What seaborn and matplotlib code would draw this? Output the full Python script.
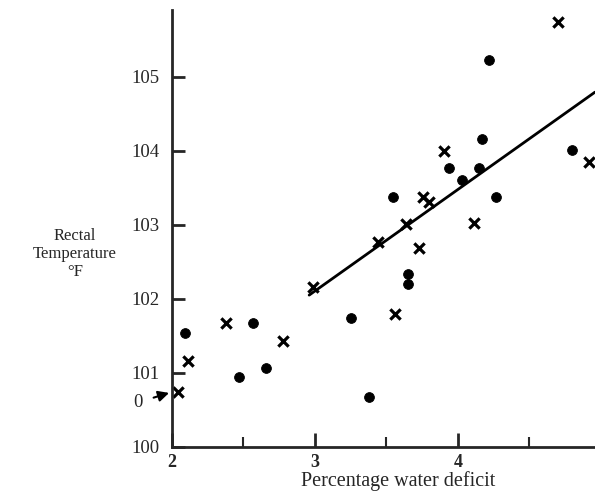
import pandas as pd
import matplotlib.pyplot as plt
import seaborn as sns

# --- data ---
dot_x = [2.09, 2.47, 2.57, 2.66, 3.25, 3.38, 3.55, 3.65, 3.65, 3.94,
         4.03, 4.15, 4.17, 4.22, 4.27, 4.80]
dot_y = [101.54, 100.95, 101.68, 101.07, 101.74, 100.68, 103.37, 102.34, 102.20, 103.76,
         103.60, 103.76, 104.16, 105.22, 103.37, 104.01]

cross_x = [2.04, 2.11, 2.38, 2.78, 2.99, 3.44, 3.56, 3.64, 3.73, 3.76,
           3.80, 3.90, 4.11, 4.70, 4.92]
cross_y = [100.74, 101.16, 101.68, 101.43, 102.16, 102.77, 101.80, 103.01, 102.69, 103.38,
           103.31, 103.99, 103.03, 105.74, 103.85]

# fitted line end points
line_x = [2.96, 4.96]
line_y = [102.05, 104.79]

x_ticks = [2, 3, 4]
x_minor = [2.5, 3.5, 4.5]
y_ticks = [100, 101, 102, 103, 104, 105]

df = pd.DataFrame({
    'deficit': dot_x + cross_x,
    'temp': dot_y + cross_y,
    'group': ['dot'] * len(dot_x) + ['cross'] * len(cross_x),
})
lines = pd.DataFrame({'deficit': line_x, 'temp': line_y})

sns.set_style("ticks")
plt.rcParams['font.family'] = ['Liberation Serif', 'DejaVu Serif']

fig = plt.figure(figsize=(5.95, 4.95), dpi=100)
ax = fig.add_axes([0.289, 0.097, 0.711, 0.883])

sns.scatterplot(data=df[df.group == 'dot'], x='deficit', y='temp', ax=ax,
                marker='o', s=50, color='black', edgecolor='black', legend=False)
sns.scatterplot(data=df[df.group == 'cross'], x='deficit', y='temp', ax=ax,
                marker='x', s=55, color='black', linewidth=2.3, legend=False)
sns.lineplot(data=lines, x='deficit', y='temp', ax=ax, color='black', linewidth=2)

ax.set_xlim(2, 4.96)
ax.set_ylim(100, 105.9)
ax.set_xticks(x_ticks)
ax.set_xticks(x_minor, minor=True)
ax.set_yticks(y_ticks)
ax.set_xticklabels([str(t) for t in x_ticks], fontsize=13, fontweight='bold')
ax.set_yticklabels([str(t) for t in y_ticks], fontsize=13.5)
ax.tick_params(axis='y', direction='in', length=9, width=2, pad=9)
ax.tick_params(axis='x', which='major', direction='in', length=10, width=2, pad=5)
ax.tick_params(axis='x', which='minor', direction='in', length=7, width=1.5)

sns.despine(ax=ax)
for side in ['left', 'bottom']:
    ax.spines[side].set_linewidth(2)

ax.set_xlabel('Percentage water deficit', fontsize=14.5)
ax.xaxis.set_label_coords(0.534, -0.056)
ax.set_ylabel('')
fig.text(0.126, 0.487, 'Rectal\nTemperature\n\u00b0F', ha='center', va='center',
         fontsize=12, linespacing=1.2)

# the stray "0" mark on the temperature axis
ax.annotate('0', xy=(1.98, 100.73), xytext=(1.76, 100.6), fontsize=13.5,
            ha='center', va='center', annotation_clip=False,
            arrowprops=dict(arrowstyle='-|>', color='black', lw=1.5,
                            mutation_scale=16, shrinkA=6, shrinkB=0))

fig.savefig('out.png', dpi=100)
